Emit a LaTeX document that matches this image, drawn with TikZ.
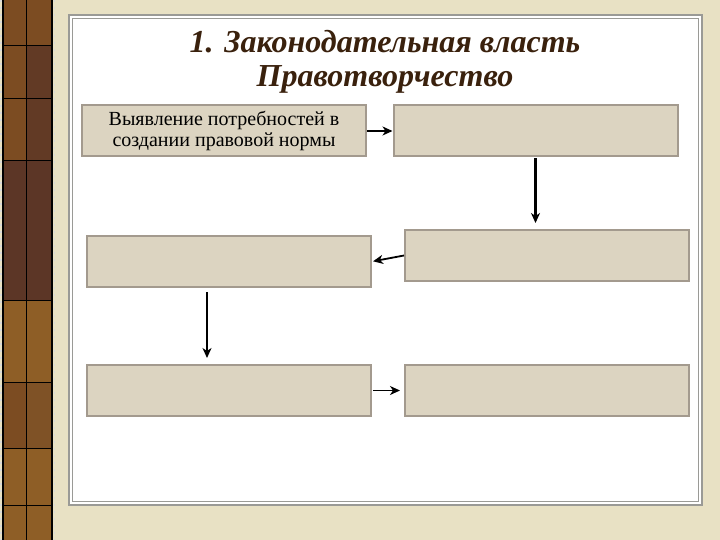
\documentclass[tikz,border=0pt]{standalone}
\usepackage{fontspec}
\setmainfont{Liberation Serif}
\usetikzlibrary{arrows.meta}

\definecolor{paper}{HTML}{E8E1C4}
\definecolor{boxfill}{HTML}{DCD4C1}
\definecolor{boxline}{HTML}{A39A8E}
\definecolor{frameline}{HTML}{9A9A96}
\definecolor{titlebrown}{HTML}{3A210D}
\definecolor{woodA}{HTML}{7C4C22}
\definecolor{woodB}{HTML}{5C3626}
\definecolor{woodC}{HTML}{8E5E26}

\begin{document}
\begin{tikzpicture}[x=1bp,y=-1bp,>={Stealth[length=10bp,width=9bp,inset=3bp]},thick]

	\useasboundingbox (0,0) rectangle (720,540);
	\fill[paper] (0,0) rectangle (720,540);

	% wooden strip on the left
	\fill[woodA] (3,0) rectangle (52,540);
	\fill[woodB] (3,160) rectangle (52,300);
	\fill[woodB!80!woodA] (26,45) rectangle (52,160);
	\fill[woodC] (3,300) rectangle (52,382);
	\fill[woodC!70!woodB] (26,382) rectangle (52,448);
	\fill[woodC] (3,448) rectangle (52,540);
	\foreach \y in {45,98,160,300,382,448,505}
		\draw[black,line width=0.6bp] (3,\y) -- (52,\y);
	\draw[black,line width=0.6bp] (26,0) -- (26,540);
	\draw[black,line width=1.5bp] (3,0) -- (3,540);
	\draw[black,line width=1.5bp] (52,0) -- (52,540);
	\draw[white!70!gray,line width=1.5bp,dash pattern=on 2bp off 5bp] (1,0) -- (1,540);
	\draw[white!70!gray,line width=1bp,dash pattern=on 2bp off 5bp] (54,0) -- (54,540);

	% white panel
	\fill[white] (69,15) rectangle (702,505);
	\draw[frameline,line width=1.5bp] (69,15) rectangle (702,505);
	\draw[frameline,line width=1bp] (72.5,18.5) rectangle (698.5,501.5);

	\node[text=titlebrown,align=center,font=\fontsize{32bp}{34bp}\selectfont\bfseries\itshape] (title) at (385,62) {1. Законодательная власть\\Правотворчество};

	\begin{scope}[every node/.style={draw=boxline,fill=boxfill,line width=2bp,rectangle,inner sep=0pt,minimum width=284bp,minimum height=51bp,align=center,font=\fontsize{20bp}{21bp}\selectfont}]
		\node (box_tl) at (224,131) {Выявление потребностей в\\создании правовой нормы};
		\node (box_tr) at (535.5,131) {};
		\node (box_mr) at (547,255.5) {};
		\node (box_ml) at (229,261.5) {};
		\node (box_bl) at (229,390.5) {};
		\node (box_br) at (547,390.5) {};
	\end{scope}

	\draw[->,line width=1.5bp] (box_tl.east) -- (box_tr.west);
	\draw[->,line width=2.2bp,shorten <=1bp,shorten >=6bp] (box_tr.south) -- (box_tr.south |- box_mr.north);
	\draw[->,line width=1.8bp,shorten >=1bp] (box_mr.west) -- (box_ml.east);
	\draw[->,line width=1.5bp,shorten <=4bp,shorten >=6bp] ([xshift=-22bp]box_ml.south) -- ([xshift=-22bp]box_bl.north);
	\draw[->,line width=1.5bp,shorten <=1bp,shorten >=4bp] (box_bl.east) -- (box_br.west);

\end{tikzpicture}
\end{document}
